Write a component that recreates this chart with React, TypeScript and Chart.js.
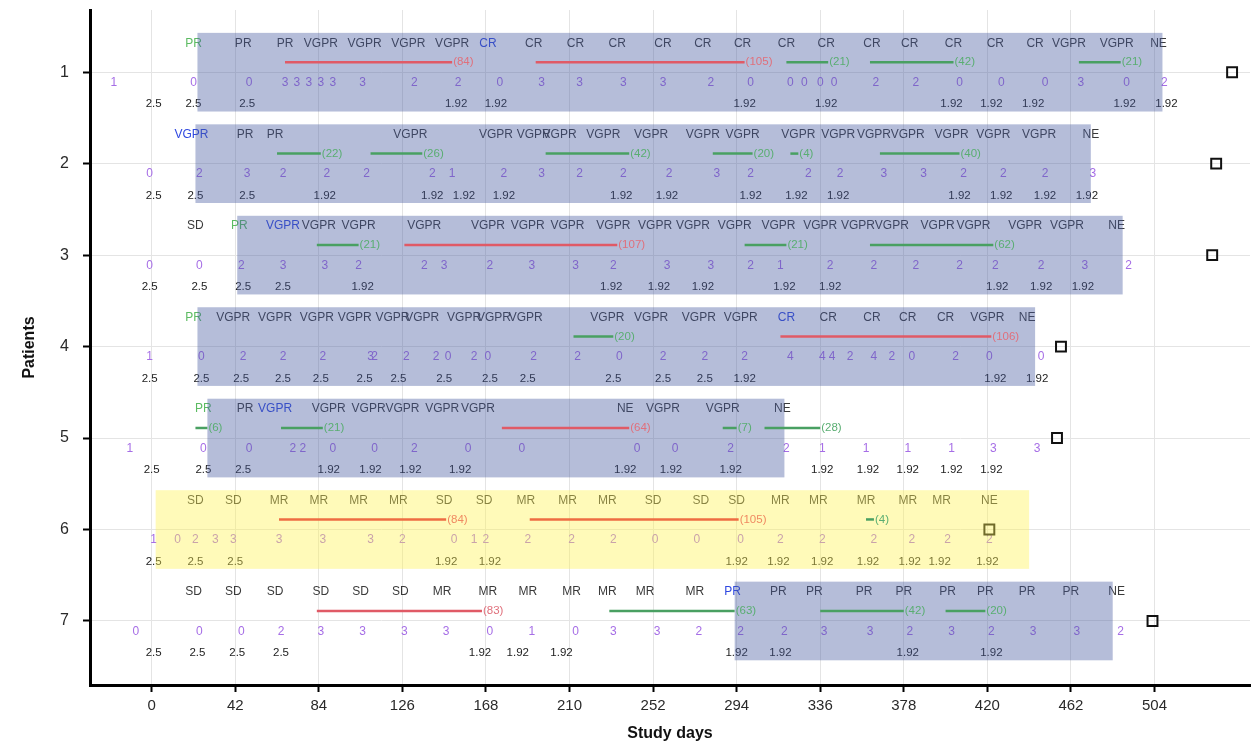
import React, { useEffect, useRef } from 'react';
import { Chart, registerables } from 'chart.js';

Chart.register(...registerables);

const FONT = '"Liberation Sans", Arial, Helvetica, sans-serif';

// ---------- axes ----------
const patients = [1, 2, 3, 4, 5, 6, 7];
const xTickValues = [0, 42, 84, 126, 168, 210, 252, 294, 336, 378, 420, 462, 504];
const X_MIN = -31;
const X_MAX = 552;
const Y_MIN = 0.32;
const Y_MAX = 7.7;

// ---------- shaded treatment boxes (study day start / end per patient) ----------
const boxStart = [23, 22, 43, 23, 28, 2, 293];
const boxEnd = [508, 472, 488, 444, 318, 441, 483];
const boxKind = ['blue', 'blue', 'blue', 'blue', 'blue', 'yellow', 'blue'];

// ---------- end-of-study markers (day) ----------
const endDay = [543, 535, 533, 457, 455, 421, 503];

// ---------- response assessments: [day, label, highlight] ----------
const resp1 = [[21, 'PR', 'g'], [46, 'PR'], [67, 'PR'], [85, 'VGPR'], [107, 'VGPR'], [129, 'VGPR'], [151, 'VGPR'], [169, 'CR', 'b'], [192, 'CR'], [213, 'CR'], [234, 'CR'], [257, 'CR'], [277, 'CR'], [297, 'CR'], [319, 'CR'], [339, 'CR'], [362, 'CR'], [381, 'CR'], [403, 'CR'], [424, 'CR'], [444, 'CR'], [461, 'VGPR'], [485, 'VGPR'], [506, 'NE']];
const resp2 = [[20, 'VGPR', 'b'], [47, 'PR'], [62, 'PR'], [130, 'VGPR'], [173, 'VGPR'], [192, 'VGPR'], [205, 'VGPR'], [227, 'VGPR'], [251, 'VGPR'], [277, 'VGPR'], [297, 'VGPR'], [325, 'VGPR'], [345, 'VGPR'], [363, 'VGPR'], [380, 'VGPR'], [402, 'VGPR'], [423, 'VGPR'], [446, 'VGPR'], [472, 'NE']];
const resp3 = [[22, 'SD'], [44, 'PR', 'g'], [66, 'VGPR', 'b'], [84, 'VGPR'], [104, 'VGPR'], [137, 'VGPR'], [169, 'VGPR'], [189, 'VGPR'], [209, 'VGPR'], [232, 'VGPR'], [253, 'VGPR'], [272, 'VGPR'], [293, 'VGPR'], [315, 'VGPR'], [336, 'VGPR'], [355, 'VGPR'], [372, 'VGPR'], [395, 'VGPR'], [413, 'VGPR'], [439, 'VGPR'], [460, 'VGPR'], [485, 'NE']];
const resp4 = [[21, 'PR', 'g'], [41, 'VGPR'], [62, 'VGPR'], [83, 'VGPR'], [102, 'VGPR'], [121, 'VGPR'], [136, 'VGPR'], [157, 'VGPR'], [172, 'VGPR'], [188, 'VGPR'], [229, 'VGPR'], [251, 'VGPR'], [275, 'VGPR'], [296, 'VGPR'], [319, 'CR', 'b'], [340, 'CR'], [362, 'CR'], [380, 'CR'], [399, 'CR'], [420, 'VGPR'], [440, 'NE']];
const resp5 = [[26, 'PR', 'g'], [47, 'PR'], [62, 'VGPR', 'b'], [89, 'VGPR'], [109, 'VGPR'], [126, 'VGPR'], [146, 'VGPR'], [164, 'VGPR'], [238, 'NE'], [257, 'VGPR'], [287, 'VGPR'], [317, 'NE']];
const resp6 = [[22, 'SD'], [41, 'SD'], [64, 'MR'], [84, 'MR'], [104, 'MR'], [124, 'MR'], [147, 'SD'], [167, 'SD'], [188, 'MR'], [209, 'MR'], [229, 'MR'], [252, 'SD'], [276, 'SD'], [294, 'SD'], [316, 'MR'], [335, 'MR'], [359, 'MR'], [380, 'MR'], [397, 'MR'], [421, 'NE']];
const resp7 = [[21, 'SD'], [41, 'SD'], [62, 'SD'], [85, 'SD'], [105, 'SD'], [125, 'SD'], [146, 'MR'], [169, 'MR'], [189, 'MR'], [211, 'MR'], [229, 'MR'], [248, 'MR'], [273, 'MR'], [292, 'PR', 'b'], [315, 'PR'], [333, 'PR'], [358, 'PR'], [378, 'PR'], [400, 'PR'], [419, 'PR'], [440, 'PR'], [462, 'PR'], [485, 'NE']];

// ---------- purple scores: [day, value] ----------
const score1 = [[-19, 1], [21, 0], [49, 0], [67, 3], [73, 3], [79, 3], [85, 3], [91, 3], [106, 3], [132, 2], [154, 2], [175, 0], [196, 3], [215, 3], [237, 3], [257, 3], [281, 2], [301, 0], [321, 0], [328, 0], [336, 0], [343, 0], [364, 2], [384, 2], [406, 0], [427, 0], [449, 0], [467, 3], [490, 0], [509, 2]];
const score2 = [[-1, 0], [24, 2], [48, 3], [66, 2], [88, 2], [108, 2], [141, 2], [151, 1], [177, 2], [196, 3], [215, 2], [237, 2], [260, 2], [284, 3], [301, 2], [330, 2], [346, 2], [368, 3], [388, 3], [408, 2], [428, 2], [449, 2], [473, 3]];
const score3 = [[-1, 0], [24, 0], [45, 2], [66, 3], [87, 3], [104, 2], [137, 2], [147, 3], [170, 2], [191, 3], [213, 3], [232, 2], [259, 3], [281, 3], [301, 2], [316, 1], [341, 2], [363, 2], [384, 2], [406, 2], [424, 2], [447, 2], [469, 3], [491, 2]];
const score4 = [[-1, 1], [25, 0], [46, 2], [66, 2], [86, 2], [110, 3], [112, 2], [128, 2], [143, 2], [149, 0], [162, 2], [169, 0], [192, 2], [214, 2], [235, 0], [257, 2], [278, 2], [298, 2], [321, 4], [337, 4], [342, 4], [351, 2], [363, 4], [372, 2], [382, 0], [404, 2], [421, 0], [447, 0]];
const score5 = [[-11, 1], [26, 0], [49, 0], [71, 2], [76, 2], [91, 0], [112, 0], [132, 2], [159, 0], [186, 0], [244, 0], [263, 0], [291, 2], [319, 2], [337, 1], [359, 1], [380, 1], [402, 1], [423, 3], [445, 3]];
const score6 = [[1, 1], [13, 0], [22, 2], [32, 3], [41, 3], [64, 3], [86, 3], [110, 3], [126, 2], [152, 0], [162, 1], [168, 2], [189, 2], [211, 2], [232, 2], [253, 0], [274, 0], [296, 0], [316, 2], [337, 2], [363, 2], [382, 2], [400, 2], [421, 2]];
const score7 = [[-8, 0], [24, 0], [45, 0], [65, 2], [85, 3], [106, 3], [127, 3], [148, 3], [170, 0], [191, 1], [213, 0], [232, 3], [254, 3], [275, 2], [296, 2], [318, 2], [338, 3], [361, 3], [381, 2], [402, 3], [422, 2], [443, 3], [465, 3], [487, 2]];

// ---------- doses: [day, value] ----------
const dose1 = [[1, 2.5], [21, 2.5], [48, 2.5], [153, 1.92], [173, 1.92], [298, 1.92], [339, 1.92], [402, 1.92], [422, 1.92], [443, 1.92], [489, 1.92], [510, 1.92]];
const dose2 = [[1, 2.5], [22, 2.5], [48, 2.5], [87, 1.92], [141, 1.92], [157, 1.92], [177, 1.92], [236, 1.92], [259, 1.92], [301, 1.92], [324, 1.92], [345, 1.92], [406, 1.92], [427, 1.92], [449, 1.92], [470, 1.92]];
const dose3 = [[-1, 2.5], [24, 2.5], [46, 2.5], [66, 2.5], [106, 1.92], [231, 1.92], [255, 1.92], [277, 1.92], [318, 1.92], [341, 1.92], [425, 1.92], [447, 1.92], [468, 1.92]];
const dose4 = [[-1, 2.5], [25, 2.5], [45, 2.5], [66, 2.5], [85, 2.5], [107, 2.5], [124, 2.5], [147, 2.5], [170, 2.5], [189, 2.5], [232, 2.5], [257, 2.5], [278, 2.5], [298, 1.92], [424, 1.92], [445, 1.92]];
const dose5 = [[0, 2.5], [26, 2.5], [46, 2.5], [89, 1.92], [110, 1.92], [130, 1.92], [155, 1.92], [238, 1.92], [261, 1.92], [291, 1.92], [337, 1.92], [360, 1.92], [380, 1.92], [402, 1.92], [422, 1.92]];
const dose6 = [[1, 2.5], [22, 2.5], [42, 2.5], [148, 1.92], [170, 1.92], [294, 1.92], [315, 1.92], [337, 1.92], [360, 1.92], [381, 1.92], [396, 1.92], [420, 1.92]];
const dose7 = [[1, 2.5], [23, 2.5], [43, 2.5], [65, 2.5], [165, 1.92], [184, 1.92], [206, 1.92], [294, 1.92], [316, 1.92], [380, 1.92], [422, 1.92]];

// ---------- duration bars: [patient, start day, length in days] ----------
const redLines = [[1, 67, 84], [1, 193, 105], [3, 127, 107], [4, 316, 106], [5, 176, 64], [6, 64, 84], [6, 190, 105], [7, 83, 83]];
const greenLines = [[1, 319, 21], [1, 361, 42], [1, 466, 21], [2, 63, 22], [2, 110, 26], [2, 198, 42], [2, 282, 20], [2, 321, 4], [2, 366, 40], [3, 83, 21], [3, 298, 21], [3, 361, 62], [4, 212, 20], [5, 22, 6], [5, 65, 21], [5, 287, 7], [5, 308, 28], [6, 359, 4], [7, 230, 63], [7, 336, 42], [7, 399, 20]];

const respRows = [resp1, resp2, resp3, resp4, resp5, resp6, resp7];
const scoreRows = [score1, score2, score3, score4, score5, score6, score7];
const doseRows = [dose1, dose2, dose3, dose4, dose5, dose6, dose7];

// ---------- styles ----------
const RED = '#e05a66';
const ORANGE = '#ee6c42';
const GREEN = '#49a062';
const RED_TXT = '#e0707c';
const ORANGE_TXT = '#f08a62';
const GREEN_TXT = '#5aae72';
const LABEL_COL = '#3a3a3a';
const LABEL_GREEN = '#5cbb62';
const LABEL_BLUE = '#2f48e0';
const PURPLE = '#a66ee6';
const DOSE_COL = '#222222';
const BOX_BLUE = 'rgba(70, 90, 160, 0.4)';
const BOX_YELLOW = 'rgba(255, 242, 80, 0.4)';
const LABEL_DY = -29;
const SCORE_DY = 10.5;
const DOSE_DY = 32;
const LINE_SHIFT = 0.11;
const BOX_HALF = 0.43;

const inYellow = (p: number) => boxKind[patients.indexOf(p)] === 'yellow';

const rowPlugin = {
  id: 'rowPlugin',
  beforeDatasetsDraw(chart: any) {
    const { ctx } = chart;
    const xs = chart.scales.x;
    const ys = chart.scales.y;
    ctx.save();
    ctx.textAlign = 'center';
    ctx.textBaseline = 'middle';
    patients.forEach((p, i) => {
      const cy = ys.getPixelForValue(p);
      ctx.font = `12px ${FONT}`;
      respRows[i].forEach((r: any) => {
        const [d, t, h] = r;
        ctx.fillStyle = h === 'g' ? LABEL_GREEN : h === 'b' ? LABEL_BLUE : LABEL_COL;
        ctx.fillText(t, xs.getPixelForValue(d), cy + LABEL_DY);
      });
      ctx.font = `12px ${FONT}`;
      ctx.fillStyle = PURPLE;
      scoreRows[i].forEach((r: any) => {
        ctx.fillText(String(r[1]), xs.getPixelForValue(r[0]), cy + SCORE_DY);
      });
      ctx.font = `11.5px ${FONT}`;
      ctx.fillStyle = DOSE_COL;
      doseRows[i].forEach((r: any) => {
        ctx.fillText(String(r[1]), xs.getPixelForValue(r[0]), cy + DOSE_DY);
      });
    });
    ctx.restore();
  },
  afterDatasetDraw(chart: any, args: any) {
    // the shaded boxes are laid over text and end markers (dataset 0), under the duration bars
    if (args.index !== 0) return;
    const { ctx } = chart;
    const xs = chart.scales.x;
    const ys = chart.scales.y;
    ctx.save();
    patients.forEach((p, i) => {
      const x0 = xs.getPixelForValue(boxStart[i]);
      const x1 = xs.getPixelForValue(boxEnd[i]);
      const y0 = ys.getPixelForValue(p - BOX_HALF);
      const y1 = ys.getPixelForValue(p + BOX_HALF);
      ctx.fillStyle = boxKind[i] === 'yellow' ? BOX_YELLOW : BOX_BLUE;
      ctx.fillRect(x0, y0, x1 - x0, y1 - y0);
    });
    ctx.restore();
  },
  afterDatasetsDraw(chart: any) {
    const { ctx } = chart;
    const xs = chart.scales.x;
    const ys = chart.scales.y;
    ctx.save();
    ctx.textAlign = 'left';
    ctx.textBaseline = 'middle';
    ctx.font = `11.5px ${FONT}`;
    const lbl = (arr: any[], col: string, alt: string) => {
      arr.forEach(([p, s, n]) => {
        ctx.fillStyle = inYellow(p) ? alt : col;
        ctx.fillText(`(${n})`, xs.getPixelForValue(s + n) + 1, ys.getPixelForValue(p - LINE_SHIFT));
      });
    };
    lbl(redLines, RED_TXT, ORANGE_TXT);
    lbl(greenLines, GREEN_TXT, GREEN_TXT);
    ctx.restore();
  },
};

export default function App() {
  const ref = useRef<HTMLCanvasElement | null>(null);

  useEffect(() => {
    if (!ref.current) return;
    const mkLine = (arr: any[], col: string, alt: string) =>
      arr.map(([p, s, n]) => ({
        data: [
          { x: s, y: p - LINE_SHIFT },
          { x: s + n, y: p - LINE_SHIFT },
        ],
        showLine: true,
        borderColor: inYellow(p) ? alt : col,
        borderWidth: 2.5,
        pointRadius: 0,
        fill: false,
        order: 0,
      }));

    const datasets: any[] = [
      {
        data: endDay.map((d, i) => ({ x: d, y: patients[i] })),
        showLine: false,
        pointStyle: 'rect',
        pointRadius: 7,
        borderColor: '#111111',
        borderWidth: 2,
        backgroundColor: 'rgba(0,0,0,0)',
        order: 1,
      },
      ...mkLine(redLines, RED, ORANGE),
      ...mkLine(greenLines, GREEN, GREEN),
    ];

    const chart = new Chart(ref.current, {
      type: 'scatter',
      data: { datasets },
      plugins: [rowPlugin],
      options: {
        animation: false,
        responsive: false,
        events: [],
        layout: { autoPadding: false, padding: { top: 10, right: 2, left: 0, bottom: 0 } },
        plugins: { legend: { display: false }, tooltip: { enabled: false } },
        scales: {
          x: {
            type: 'linear',
            min: X_MIN,
            max: X_MAX,
            afterBuildTicks: (axis: any) => {
              axis.ticks = xTickValues.map((v) => ({ value: v }));
            },
            afterFit: (scale: any) => {
              scale.height = 66;
              scale.paddingLeft = 0;
              scale.paddingRight = 0;
            },
            ticks: {
              font: { family: FONT, size: 15 },
              color: '#2a2a2a',
              padding: 5,
              maxRotation: 0,
              autoSkip: false,
            },
            grid: {
              color: '#e4e4e4',
              lineWidth: 1,
              drawTicks: true,
              tickLength: 7,
              tickColor: '#000000',
              tickWidth: 2,
            },
            border: { display: true, color: '#000000', width: 3 },
            title: {
              display: true,
              text: 'Study days',
              font: { family: FONT, size: 16, weight: 'bold' },
              color: '#111111',
              padding: { top: 0, bottom: 8 },
            },
          },
          y: {
            type: 'linear',
            reverse: true,
            min: Y_MIN,
            max: Y_MAX,
            afterBuildTicks: (axis: any) => {
              axis.ticks = patients.map((v) => ({ value: v }));
            },
            afterFit: (scale: any) => {
              scale.width = 90;
              scale.paddingTop = 0;
              scale.paddingBottom = 0;
            },
            ticks: {
              font: { family: FONT, size: 16 },
              color: '#2a2a2a',
              padding: 14,
              autoSkip: false,
            },
            grid: {
              color: '#e4e4e4',
              lineWidth: 1,
              drawTicks: true,
              tickLength: 7,
              tickColor: '#000000',
              tickWidth: 2,
            },
            border: { display: true, color: '#000000', width: 3 },
            title: {
              display: true,
              text: 'Patients',
              font: { family: FONT, size: 16, weight: 'bold' },
              color: '#111111',
              padding: { top: 20, bottom: 0 },
            },
          },
        },
      } as any,
    });
    return () => chart.destroy();
  }, []);

  return (
    <div style={{ position: 'fixed', left: 0, top: 0, width: 1252, height: 751, background: '#ffffff' }}>
      <canvas ref={ref} width={1252} height={751} style={{ display: 'block', width: 1252, height: 751 }} />
    </div>
  );
}
